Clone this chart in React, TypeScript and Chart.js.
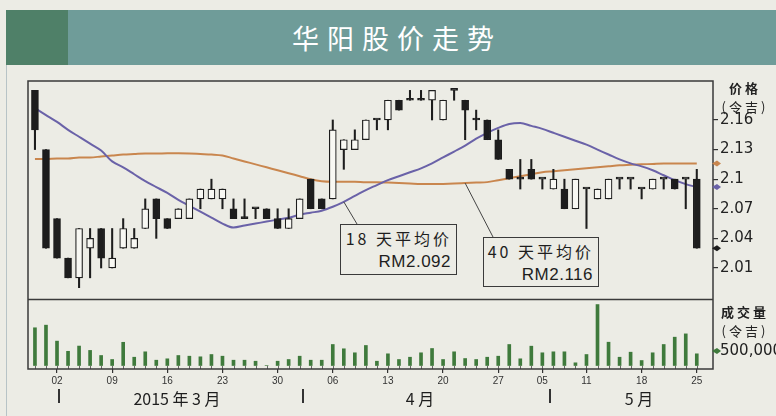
import React, { useEffect, useRef } from "react";
import { Chart, registerables } from "chart.js";

Chart.register(...registerables);

// ---------- data ----------
const dates = [
  "02-26", "02-27",
  "03-02", "03-03", "03-04", "03-05", "03-06", "03-09", "03-10", "03-11", "03-12", "03-13",
  "03-16", "03-17", "03-18", "03-19", "03-20", "03-23", "03-24", "03-25", "03-26", "03-27",
  "03-30", "03-31",
  "04-01", "04-02", "04-03", "04-06", "04-07", "04-08", "04-09", "04-10", "04-13", "04-14",
  "04-15", "04-16", "04-17", "04-20", "04-21", "04-22", "04-23", "04-24", "04-27", "04-28",
  "04-29", "04-30",
  "05-05", "05-06", "05-07", "05-08", "05-11", "05-12", "05-13", "05-14", "05-15", "05-18",
  "05-19", "05-20", "05-21", "05-22", "05-25",
];

const opens = [
  2.19, 2.13,
  2.06, 2.02, 2.00, 2.03, 2.05, 2.01, 2.03, 2.03, 2.05, 2.08,
  2.06, 2.06, 2.06, 2.08, 2.08, 2.08, 2.07, 2.06, 2.07, 2.07,
  2.06, 2.05,
  2.06, 2.10, 2.08, 2.08, 2.13, 2.13, 2.14, 2.16, 2.16, 2.18,
  2.18, 2.18, 2.18, 2.16, 2.19, 2.18, 2.16, 2.16, 2.14, 2.11,
  2.10, 2.11,
  2.10, 2.09, 2.09, 2.07, 2.09, 2.08, 2.08, 2.10, 2.10, 2.09,
  2.09, 2.10, 2.10, 2.10, 2.10,
];
const highs = [
  2.19, 2.13,
  2.06, 2.02, 2.05, 2.05, 2.05, 2.05, 2.06, 2.05, 2.08, 2.08,
  2.06, 2.07, 2.08, 2.09, 2.10, 2.09, 2.08, 2.08, 2.07, 2.07,
  2.07, 2.07,
  2.08, 2.10, 2.08, 2.16, 2.14, 2.15, 2.16, 2.16, 2.18, 2.18,
  2.19, 2.19, 2.19, 2.18, 2.19, 2.18, 2.17, 2.16, 2.15, 2.11,
  2.12, 2.12,
  2.10, 2.11, 2.10, 2.10, 2.09, 2.09, 2.10, 2.10, 2.10, 2.09,
  2.10, 2.10, 2.10, 2.10, 2.11,
];
const lows = [
  2.13, 2.03,
  2.02, 2.00, 1.99, 2.00, 2.01, 2.01, 2.03, 2.03, 2.05, 2.04,
  2.05, 2.06, 2.06, 2.07, 2.08, 2.07, 2.06, 2.06, 2.06, 2.06,
  2.05, 2.05,
  2.06, 2.07, 2.07, 2.08, 2.11, 2.13, 2.14, 2.15, 2.15, 2.17,
  2.18, 2.18, 2.16, 2.16, 2.18, 2.14, 2.15, 2.14, 2.12, 2.10,
  2.09, 2.10,
  2.09, 2.09, 2.07, 2.07, 2.05, 2.08, 2.08, 2.09, 2.09, 2.08,
  2.09, 2.09, 2.09, 2.07, 2.03,
];
const closes = [
  2.15, 2.03,
  2.02, 2.00, 2.05, 2.04, 2.02, 2.02, 2.05, 2.04, 2.07, 2.06,
  2.05, 2.07, 2.08, 2.09, 2.09, 2.09, 2.06, 2.06, 2.07, 2.06,
  2.05, 2.06,
  2.08, 2.07, 2.07, 2.15, 2.14, 2.14, 2.16, 2.16, 2.18, 2.17,
  2.18, 2.18, 2.19, 2.18, 2.19, 2.17, 2.16, 2.14, 2.12, 2.10,
  2.10, 2.10,
  2.10, 2.10, 2.07, 2.10, 2.09, 2.09, 2.10, 2.10, 2.10, 2.09,
  2.10, 2.10, 2.09, 2.10, 2.03,
];

const volumes = [
  1300000, 1390000,
  840000, 490000, 670000, 520000, 345000, 207000, 800000, 286000, 472000, 183000,
  231000, 345000, 321000, 300000, 379000, 321000, 183000, 183000, 148000, 0,
  148000, 207000,
  321000, 183000, 183000, 724000, 576000, 438000, 690000, 148000, 403000, 207000,
  286000, 438000, 586000, 207000, 472000, 241000, 207000, 286000, 321000, 724000,
  231000, 666000,
  438000, 472000, 472000, 93000, 379000, 2100000, 803000, 286000, 459000, 172000,
  438000, 724000, 976000, 1090000, 403000,
];

const ma18 = [
  2.172, 2.165,
  2.158, 2.150, 2.143, 2.136, 2.129, 2.118, 2.112, 2.105, 2.098, 2.092,
  2.086, 2.079, 2.073, 2.067, 2.061, 2.055, 2.051, 2.053, 2.055, 2.057,
  2.059, 2.061,
  2.064, 2.066, 2.068, 2.072, 2.077, 2.083, 2.089, 2.094, 2.099, 2.103,
  2.107, 2.111, 2.116, 2.122, 2.128, 2.134, 2.141, 2.147, 2.152, 2.156,
  2.157, 2.154,
  2.151, 2.147, 2.143, 2.139, 2.135, 2.130, 2.125, 2.120, 2.116, 2.113,
  2.109, 2.104, 2.099, 2.095, 2.092,
];
const ma40 = [
  2.1205, 2.1205,
  2.121, 2.121, 2.122, 2.122, 2.123, 2.124, 2.125, 2.1255, 2.126, 2.126,
  2.1262, 2.1262, 2.126, 2.1255, 2.125, 2.124, 2.121, 2.118, 2.115, 2.112,
  2.109, 2.106,
  2.103, 2.100, 2.098, 2.0975, 2.0975, 2.0975, 2.097, 2.097, 2.0965, 2.096,
  2.0955, 2.095, 2.095, 2.0952, 2.0955, 2.096, 2.0965, 2.097, 2.099, 2.101,
  2.103, 2.105,
  2.107, 2.108, 2.109, 2.110, 2.111, 2.112, 2.113, 2.114, 2.1145, 2.115,
  2.1155, 2.116, 2.116, 2.116, 2.116,
];

const majorTickDates = [
  "03-02", "03-09", "03-16", "03-23", "03-30", "04-06", "04-13",
  "04-20", "04-27", "05-05", "05-11", "05-18", "05-25",
];
const priceTicks = [2.01, 2.04, 2.07, 2.1, 2.13, 2.16];
const volumeTicks = [500000];
const monthLabels = ["2015 年 3 月", "4 月", "5 月"];
const ma18Label = ["18 天平均价", "RM2.092"];
const ma40Label = ["40 天平均价", "RM2.116"];

// scale ranges
const xMin = -0.63;
const xMax = 61.47;
const priceMin = 1.9076;
const priceMax = 2.1995;
const pricePanelFloor = 1.978;
const volMin = -120000;
const volMax = 9800000;

const PAPER = "#ecece5";
const INK = "#1d1d1d";
const COL18 = "#6a62a8";
const COL40 = "#c9864e";
const VOLCOL = "#3f7a3c";

function diamond(ctx: CanvasRenderingContext2D, cx: number, cy: number, color: string) {
  ctx.beginPath();
  ctx.moveTo(cx - 5, cy);
  ctx.lineTo(cx, cy - 3);
  ctx.lineTo(cx + 4, cy);
  ctx.lineTo(cx, cy + 3);
  ctx.closePath();
  ctx.fillStyle = color;
  ctx.fill();
}

const decorPlugin = {
  id: "decor",
  afterDatasetsDraw(chart: any) {
    const { ctx, chartArea: ca, scales } = chart;
    const x = scales.x;
    const y = scales.y;
    const yv = scales.yv;
    ctx.save();
    // minor day ticks along the bottom
    ctx.strokeStyle = "#666";
    ctx.lineWidth = 1;
    for (let i = 0; i < dates.length; i++) {
      const px = Math.round(x.getPixelForValue(i)) + 0.5;
      ctx.beginPath();
      ctx.moveTo(px, ca.bottom - 3);
      ctx.lineTo(px, ca.bottom);
      ctx.stroke();
    }
    // frame and panel separator
    ctx.strokeStyle = "#3a3a3a";
    ctx.lineWidth = 1.5;
    ctx.strokeRect(ca.left, ca.top, ca.right - ca.left, ca.bottom - ca.top);
    const sy = y.getPixelForValue(pricePanelFloor);
    ctx.beginPath();
    ctx.moveTo(ca.left, sy);
    ctx.lineTo(ca.right, sy);
    ctx.stroke();

    // volume tick
    ctx.lineWidth = 1.2;
    ctx.strokeStyle = "#333";
    ctx.fillStyle = "#222";
    ctx.font = "15px 'DejaVu Sans'";
    ctx.textBaseline = "middle";
    ctx.textAlign = "left";
    for (const v of volumeTicks) {
      const vy = yv.getPixelForValue(v);
      ctx.beginPath();
      ctx.moveTo(ca.right, vy);
      ctx.lineTo(ca.right + 5, vy);
      ctx.stroke();
      ctx.fillText(v.toLocaleString("en-US"), ca.right + 7, vy);
    }

    // leader lines to the annotation boxes
    ctx.strokeStyle = "#444";
    ctx.lineWidth = 1;
    ctx.beginPath();
    ctx.moveTo(x.getPixelForValue(28), y.getPixelForValue(ma18[28]));
    ctx.lineTo(357, 224);
    ctx.moveTo(x.getPixelForValue(39), y.getPixelForValue(ma40[39]));
    ctx.lineTo(493, 237);
    ctx.stroke();

    // latest-value markers on the right edge
    const last = dates.length - 1;
    const mx = ca.right + 4;
    diamond(ctx, mx, y.getPixelForValue(ma40[last]), COL40);
    diamond(ctx, mx, y.getPixelForValue(ma18[last]), COL18);
    diamond(ctx, mx, y.getPixelForValue(closes[last]), INK);
    diamond(ctx, mx, yv.getPixelForValue(volumeTicks[0]), VOLCOL);
    ctx.restore();
  },
};

function ChartCanvas() {
  const ref = useRef<HTMLCanvasElement | null>(null);
  useEffect(() => {
    if (!ref.current) return;
    const idx = dates.map((_, i) => i);
    const bodyData = idx.map((i) => ({
      x: i,
      y: [Math.min(opens[i], closes[i]), Math.max(opens[i], closes[i])],
    }));
    const bodyFill = idx.map((i) => (closes[i] > opens[i] ? "#f8f8f3" : INK));
    const wickData = idx.map((i) => ({ x: i, y: [lows[i], highs[i]] }));
    const volData = idx.map((i) => ({ x: i, y: volumes[i] }));
    const ma18Data = idx.map((i) => ({ x: i, y: ma18[i] }));
    const ma40Data = idx.map((i) => ({ x: i, y: ma40[i] }));
    const majorIdx = majorTickDates.map((d) => dates.indexOf(d));

    const chart = new Chart(ref.current, {
      type: "bar",
      data: {
        datasets: [
          {
            type: "bar",
            label: "body",
            data: bodyData as any,
            yAxisID: "y",
            backgroundColor: bodyFill,
            borderColor: INK,
            borderWidth: 1.2,
            borderSkipped: false,
            barThickness: 7,
            minBarLength: 2,
            grouped: false,
            order: 0,
          },
          {
            type: "bar",
            label: "wick",
            data: wickData as any,
            yAxisID: "y",
            backgroundColor: INK,
            barThickness: 1.4,
            grouped: false,
            order: 1,
          },
          {
            type: "line",
            label: "MA18",
            data: ma18Data,
            yAxisID: "y",
            borderColor: COL18,
            borderWidth: 2,
            pointRadius: 0,
            cubicInterpolationMode: "monotone",
            order: 2,
          },
          {
            type: "line",
            label: "MA40",
            data: ma40Data,
            yAxisID: "y",
            borderColor: COL40,
            borderWidth: 2,
            pointRadius: 0,
            cubicInterpolationMode: "monotone",
            order: 3,
          },
          {
            type: "bar",
            label: "volume",
            data: volData as any,
            yAxisID: "yv",
            backgroundColor: VOLCOL,
            barThickness: 3,
            grouped: false,
            order: 4,
          },
        ],
      },
      options: {
        animation: false,
        responsive: false,
        layout: { padding: { left: 28, top: 81, right: 0, bottom: 0 } },
        plugins: { legend: { display: false }, tooltip: { enabled: false } },
        scales: {
          x: {
            type: "linear",
            position: "bottom",
            min: xMin,
            max: xMax,
            offset: false,
            afterBuildTicks: (scale: any) => {
              scale.ticks = majorIdx.map((v) => ({ value: v }));
            },
            afterFit: (scale: any) => {
              scale.height = 47;
            },
            ticks: {
              autoSkip: false,
              maxRotation: 0,
              padding: 2,
              color: "#333",
              font: { family: "'Liberation Sans'", size: 10 },
              callback: (v: any) => {
                const d = dates[Math.round(Number(v))];
                return d ? d.slice(3) : "";
              },
            },
            grid: {
              offset: false,
              drawOnChartArea: false,
              drawTicks: true,
              tickLength: 4,
              color: "#333",
              lineWidth: 1.2,
            },
            border: { display: false },
          },
          y: {
            type: "linear",
            position: "right",
            min: priceMin,
            max: priceMax,
            afterBuildTicks: (scale: any) => {
              scale.ticks = priceTicks.map((v) => ({ value: v }));
            },
            afterFit: (scale: any) => {
              scale.width = 63;
            },
            ticks: {
              padding: 2,
              color: "#222",
              font: { family: "'DejaVu Sans'", size: 15 },
              callback: (v: any) => String(v),
            },
            grid: {
              drawOnChartArea: false,
              drawTicks: true,
              tickLength: 5,
              color: "#333",
              lineWidth: 1.2,
            },
            border: { display: false },
          },
          yv: {
            type: "linear",
            display: false,
            min: volMin,
            max: volMax,
          },
        },
      },
      plugins: [decorPlugin],
    });
    return () => chart.destroy();
  }, []);
  return (
    <canvas
      ref={ref}
      width={776}
      height={416}
      style={{ position: "absolute", left: 0, top: 0, width: 776, height: 416 }}
    />
  );
}

const cjk = "'Noto Sans CJK SC', 'Liberation Sans', sans-serif";

export default function App() {
  const boxStyle = (left: number, top: number, w: number, h: number): React.CSSProperties => ({
    position: "absolute",
    left,
    top,
    width: w,
    height: h,
    boxSizing: "border-box",
    border: "1.4px solid #3a3a3a",
    background: PAPER,
    color: "#1e1e1e",
    fontFamily: cjk,
    textAlign: "right",
    paddingRight: 5,
    zIndex: 2,
  });
  const line1: React.CSSProperties = {
    position: "absolute",
    right: 4,
    top: 4,
    fontSize: 16,
    lineHeight: "18px",
    letterSpacing: 3,
    whiteSpace: "nowrap",
  };
  const line2: React.CSSProperties = {
    position: "absolute",
    right: 5,
    top: 28,
    fontSize: 17,
    lineHeight: "18px",
    letterSpacing: 0.5,
    fontFamily: "'Liberation Sans', sans-serif",
    whiteSpace: "nowrap",
  };
  const sideLabel = (top: number, text: string, bold: boolean): React.CSSProperties => ({
    position: "absolute",
    left: 716,
    width: 58,
    top,
    textAlign: "center",
    fontFamily: cjk,
    fontWeight: bold ? 700 : 400,
    fontSize: 13,
    lineHeight: "14px",
    letterSpacing: 3,
    color: "#222",
    whiteSpace: "nowrap",
    zIndex: 2,
  });
  const monthStyle = (cx: number, w: number): React.CSSProperties => ({
    position: "absolute",
    left: cx - w / 2,
    width: w,
    top: 389,
    textAlign: "center",
    fontFamily: cjk,
    fontSize: 16,
    lineHeight: "18px",
    color: "#1e1e1e",
    whiteSpace: "nowrap",
    zIndex: 2,
  });
  const sep = (x: number): React.CSSProperties => ({
    position: "absolute",
    left: x,
    top: 389,
    width: 1.5,
    height: 14,
    background: "#333",
    zIndex: 2,
  });

  return (
    <div
      style={{
        position: "absolute",
        left: 0,
        top: 0,
        width: 776,
        height: 416,
        overflow: "hidden",
        background: PAPER,
      }}
    >
      {/* title band */}
      <div style={{ position: "absolute", left: 6, top: 10, width: 770, height: 55, background: "#6f9c99" }} />
      <div style={{ position: "absolute", left: 6, top: 10, width: 62, height: 55, background: "#4f8068" }} />
      <div
        style={{
          position: "absolute",
          left: 292,
          top: 23,
          fontFamily: cjk,
          fontSize: 27,
          lineHeight: "30px",
          letterSpacing: 8,
          color: "#ffffff",
          whiteSpace: "nowrap",
        }}
      >
        华阳股价走势
      </div>
      {/* page edge line */}
      <div style={{ position: "absolute", left: 6, top: 65, width: 1, height: 351, background: "#b7c3c6" }} />

      <ChartCanvas />

      {/* axis headers */}
      <div style={sideLabel(81, "价格", true)}>价格</div>
      <div style={sideLabel(100, "(令吉)", false)}>(令吉)</div>
      <div style={sideLabel(305, "成交量", true)}>成交量</div>
      <div style={sideLabel(324, "(令吉)", false)}>(令吉)</div>

      {/* moving-average annotation boxes */}
      <div style={boxStyle(340, 224, 117, 51)}>
        <div style={line1}>{ma18Label[0]}</div>
        <div style={line2}>{ma18Label[1]}</div>
      </div>
      <div style={boxStyle(483, 237, 116, 50)}>
        <div style={line1}>{ma40Label[0]}</div>
        <div style={line2}>{ma40Label[1]}</div>
      </div>

      {/* month row */}
      <div style={sep(58)} />
      <div style={sep(302)} />
      <div style={sep(549)} />
      <div style={monthStyle(177, 120)}>{monthLabels[0]}</div>
      <div style={monthStyle(420, 60)}>{monthLabels[1]}</div>
      <div style={monthStyle(639, 60)}>{monthLabels[2]}</div>
    </div>
  );
}
